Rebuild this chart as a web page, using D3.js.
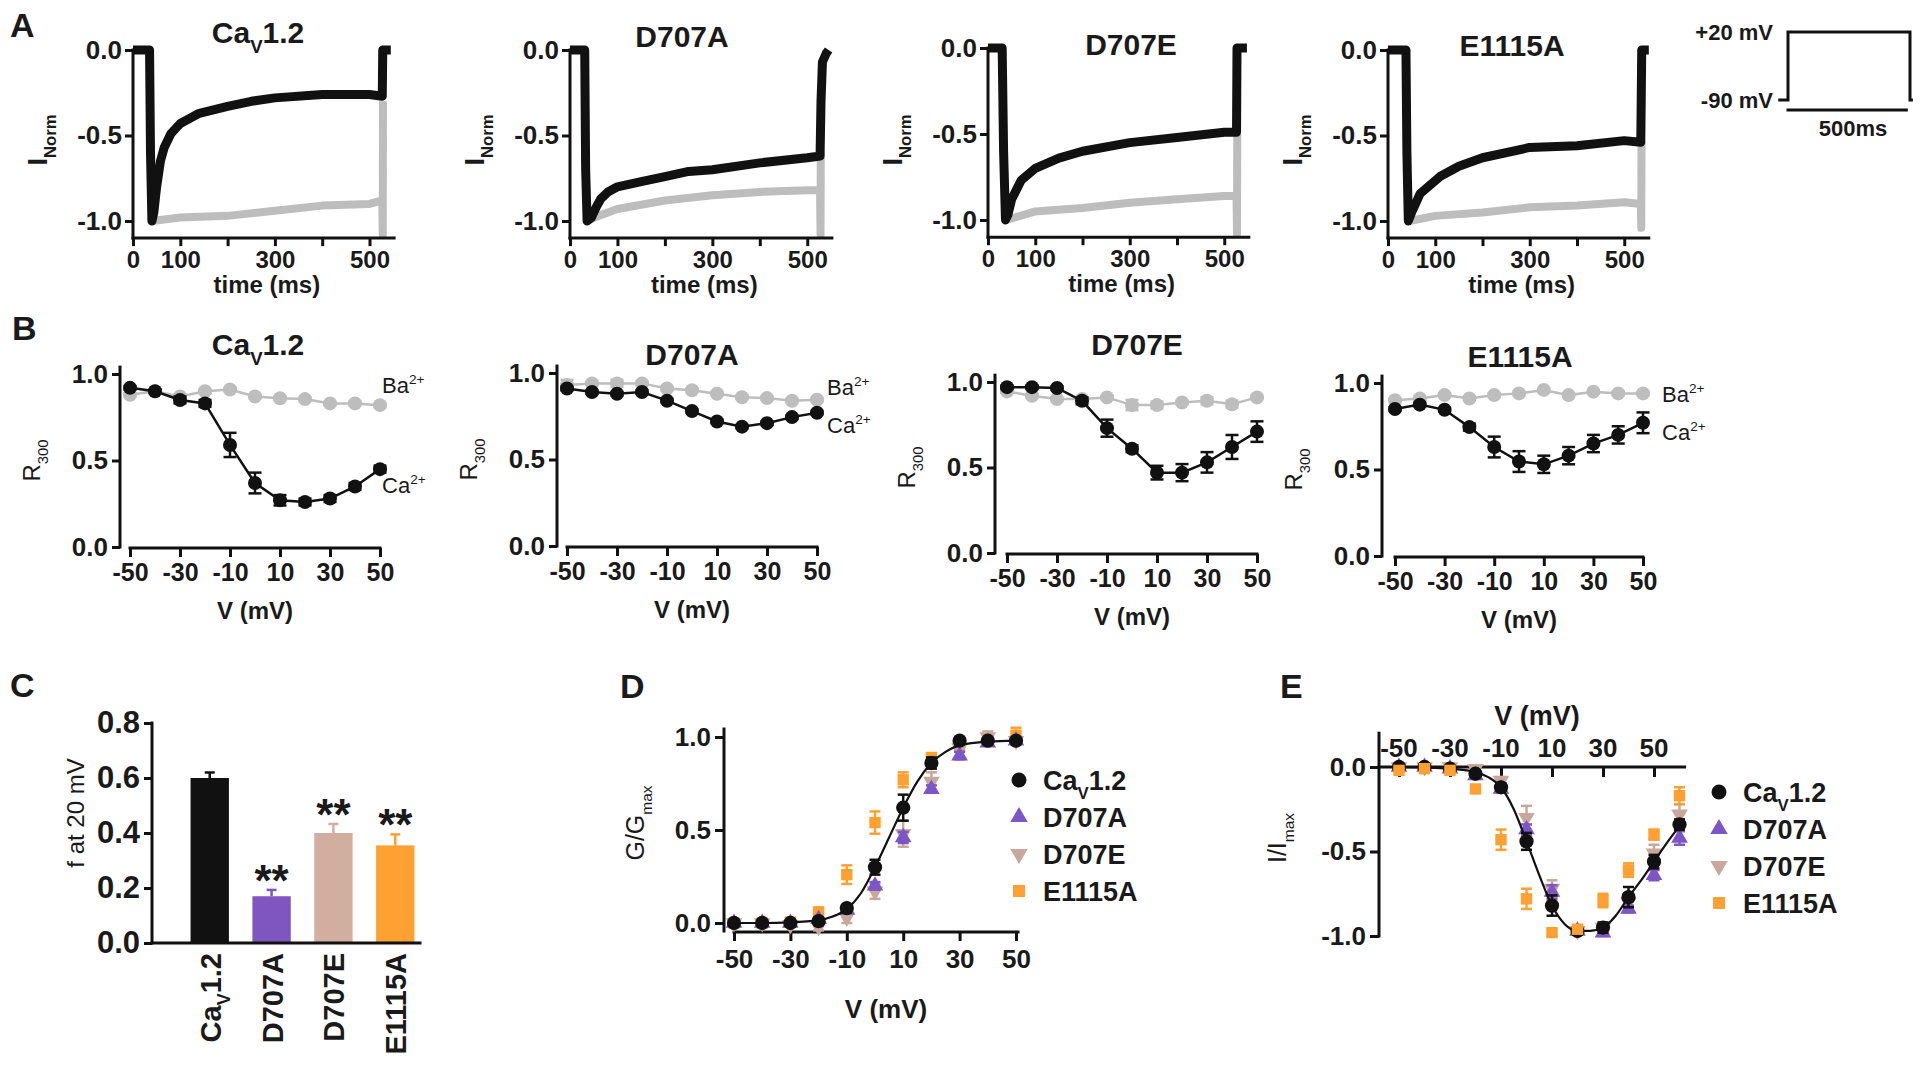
<!DOCTYPE html>
<html>
<head>
<meta charset="utf-8">
<script src="https://cdn.jsdelivr.net/npm/d3@7"></script>
<style>
  body { margin: 0; background: #fff; }
  text { font-family: "Liberation Sans", Arial, sans-serif; fill: #1a1a1a; }
</style>
</head>
<body>
<svg id="fig" width="1920" height="1067"></svg>
<script>
// ---- Panel A: normalised current traces, [time ms, I/Ipeak] (black = Ca2+, grey = Ba2+)
const traceCavCa = [[0,0],[35,0],[37,-0.6],[40,-1.0],[44,-0.95],[50,-0.8],[58,-0.65],[66,-0.57],[80,-0.49],[100,-0.43],[140,-0.37],[200,-0.33],[250,-0.3],[300,-0.28],[400,-0.26],[500,-0.26],[527,-0.27],[528,0],[545,0]];
const traceCavBa = [[40,-1.0],[100,-0.98],[200,-0.97],[300,-0.94],[400,-0.91],[500,-0.9],[527,-0.88],[528,-1.08],[528.5,-0.3]];
const traceD707ACa = [[0,0],[31,0],[33,-0.7],[36,-1.0],[45,-0.98],[55,-0.92],[65,-0.87],[80,-0.83],[100,-0.8],[150,-0.77],[200,-0.74],[250,-0.71],[300,-0.7],[400,-0.66],[500,-0.63],[527,-0.62],[529,-0.3],[532,-0.07],[540,-0.02],[545,0]];
const traceD707ABa = [[36,-1.0],[60,-0.97],[100,-0.93],[200,-0.88],[300,-0.85],[400,-0.83],[500,-0.82],[527,-0.82],[528,-1.08],[528.5,-0.6]];
const traceD707ECa = [[0,0],[30,0],[33,-0.6],[37,-1.0],[42,-0.97],[50,-0.88],[70,-0.77],[100,-0.7],[150,-0.64],[200,-0.6],[300,-0.55],[400,-0.52],[500,-0.49],[526,-0.49],[527,0],[548,0]];
const traceD707EBa = [[38,-1.0],[100,-0.95],[200,-0.93],[300,-0.9],[400,-0.88],[500,-0.86],[526,-0.86],[527,-1.08],[527.5,-0.5]];
const traceE1115ACa = [[0,0],[38,0],[40,-0.6],[43,-1.0],[50,-0.95],[68,-0.84],[110,-0.74],[150,-0.68],[200,-0.63],[300,-0.57],[400,-0.56],[500,-0.53],[535,-0.54],[537,0],[552,0]];
const traceE1115ABa = [[45,-1.0],[100,-0.97],[200,-0.95],[300,-0.92],[400,-0.91],[500,-0.89],[535,-0.9],[536,-1.04],[536.5,-0.54]];
const traceTicks = [0, 100, 200, 300, 400, 500];
const traceTickLabels = [0, 100, 300, 500];

// voltage protocol
const protocolT = [-40, 0, 0, 500, 500, 512];
const protocolV = [-90, -90, 20, 20, -90, -90];

// ---- Panel B: R300 vs voltage
const vSteps = [-50, -40, -30, -20, -10, 0, 10, 20, 30, 40, 50];
const rCavCa = [0.92, 0.9, 0.85, 0.83, 0.59, 0.37, 0.27, 0.26, 0.28, 0.35, 0.45];
const rCavCaErr = [0.01, 0.01, 0.02, 0.02, 0.07, 0.06, 0.03, 0.02, 0.02, 0.02, 0.02];
const rCavBa = [0.88, 0.9, 0.87, 0.9, 0.91, 0.87, 0.86, 0.855, 0.83, 0.83, 0.82];
const rCavBaErr = [0.01, 0.01, 0.01, 0.01, 0.01, 0.01, 0.01, 0.01, 0.01, 0.01, 0.01];
const rD707ACa = [0.91, 0.89, 0.88, 0.89, 0.84, 0.78, 0.72, 0.69, 0.71, 0.745, 0.77];
const rD707ACaErr = [0.01, 0.01, 0.01, 0.01, 0.01, 0.01, 0.01, 0.01, 0.01, 0.01, 0.01];
const rD707ABa = [0.93, 0.94, 0.94, 0.94, 0.91, 0.9, 0.88, 0.86, 0.855, 0.84, 0.845];
const rD707ABaErr = [0.03, 0.01, 0.02, 0.01, 0.01, 0.01, 0.01, 0.01, 0.01, 0.01, 0.01];
const rD707ECa = [0.97, 0.97, 0.965, 0.89, 0.73, 0.61, 0.47, 0.47, 0.53, 0.62, 0.71];
const rD707ECaErr = [0.01, 0.01, 0.01, 0.02, 0.05, 0.02, 0.04, 0.05, 0.06, 0.07, 0.06];
const rD707EBa = [0.945, 0.92, 0.9, 0.9, 0.91, 0.865, 0.865, 0.88, 0.89, 0.87, 0.91];
const rD707EBaErr = [0.01, 0.01, 0.01, 0.01, 0.01, 0.03, 0.02, 0.01, 0.02, 0.02, 0.01];
const rE1115ACa = [0.85, 0.875, 0.845, 0.745, 0.63, 0.546, 0.53, 0.58, 0.65, 0.7, 0.77];
const rE1115ACaErr = [0.01, 0.01, 0.01, 0.02, 0.06, 0.06, 0.05, 0.05, 0.05, 0.05, 0.06];
const rE1115ABa = [0.9, 0.91, 0.93, 0.91, 0.93, 0.94, 0.96, 0.93, 0.95, 0.94, 0.94];
const rE1115ABaErr = [0.01, 0.01, 0.01, 0.01, 0.01, 0.01, 0.01, 0.01, 0.01, 0.01, 0.01];

// ---- Panel C: f at 20 mV
const barNames = ["CaV1.2", "D707A", "D707E", "E1115A"];
const barValues = [0.6, 0.17, 0.4, 0.355];
const barErrors = [0.02, 0.023, 0.033, 0.04];
const barStars = ["", "**", "**", "**"];
const barTicks = [0, 0.2, 0.4, 0.6, 0.8];

// ---- Panel D: G/Gmax
const gCav = [0, 0, 0, 0.01, 0.08, 0.3, 0.62, 0.86, 0.98, 0.98, 0.98];
const gCavErr = [0, 0, 0, 0.005, 0.01, 0.04, 0.07, 0.03, 0.02, 0.01, 0.01];
const gD707A = [0, 0, 0, 0.02, 0.07, 0.2, 0.46, 0.72, 0.9, 0.97, 0.98];
const gD707AErr = [0, 0, 0, 0.01, 0.01, 0.02, 0.03, 0.02, 0.02, 0.01, 0.01];
const gD707E = [0, 0, -0.01, -0.02, 0.03, 0.17, 0.48, 0.76, 0.94, 1.0, 0.98];
const gD707EErr = [0, 0, 0.01, 0.02, 0.03, 0.04, 0.07, 0.05, 0.02, 0.03, 0.02];
const gE1115A = [0, 0, 0.005, 0.06, 0.26, 0.54, 0.77, 0.89, 0.95, 0.99, 1.01];
const gE1115AErr = [0, 0, 0, 0.02, 0.05, 0.06, 0.04, 0.02, 0.02, 0.02, 0.04];
const gFitV = [-50, -40, -30, -20, -15, -10, -5, 0, 5, 10, 15, 20, 25, 30, 40, 50];
const gFit = [0, 0, 0.003, 0.015, 0.035, 0.075, 0.16, 0.3, 0.46, 0.62, 0.76, 0.86, 0.92, 0.955, 0.975, 0.98];

// ---- Panel E: I/Imax
const vStepsE = [-50, -40, -30, -20, -10, 0, 10, 20, 30, 40, 50, 60];
const iCav = [0, 0, -0.01, -0.04, -0.12, -0.44, -0.82, -0.97, -0.95, -0.77, -0.56, -0.34];
const iCavErr = [0.01, 0.01, 0.01, 0.01, 0.02, 0.05, 0.06, 0.02, 0.03, 0.06, 0.04, 0.03];
const iD707A = [0, 0, -0.01, -0.05, -0.13, -0.37, -0.74, -0.97, -0.98, -0.84, -0.64, -0.42];
const iD707AErr = [0.01, 0.01, 0.01, 0.02, 0.02, 0.03, 0.04, 0.02, 0.02, 0.02, 0.03, 0.04];
const iD707E = [0, 0, 0, -0.01, -0.08, -0.3, -0.72, -0.97, -0.95, -0.8, -0.51, -0.28];
const iD707EErr = [0.01, 0.01, 0.02, 0.02, 0.02, 0.07, 0.05, 0.02, 0.03, 0.03, 0.05, 0.06];
const iE1115A = [-0.02, -0.01, -0.02, -0.13, -0.43, -0.78, -0.98, -0.96, -0.79, -0.61, -0.4, -0.17];
const iE1115AErr = [0.01, 0.01, 0.01, 0.02, 0.06, 0.06, 0.02, 0.02, 0.04, 0.04, 0.03, 0.05];
const iFitV = [-50, -30, -20, -15, -10, -5, 0, 5, 10, 15, 20, 25, 30, 35, 40, 45, 50, 55, 60];
const iFit = [0, -0.01, -0.03, -0.06, -0.12, -0.25, -0.44, -0.64, -0.82, -0.93, -0.97, -0.97, -0.95, -0.88, -0.77, -0.67, -0.56, -0.45, -0.35];

const black = "#111";
const grey = "#bdbdbd";
const purple = "#7d55c5";
const tan = "#c8a89b";
const orange = "#ffa033";
const barColors = [black, "#7f56c0", "#d1ae9f", orange];

const svg = d3.select("#fig");
const fmt1 = d => d.toFixed(1);
const fmtInt = d => String(d);   // plain hyphen minus, as in the figure

// text with sub/superscripts. parts: strings or {t, sub} / {t, sup}
function richText(g, x, y, parts, o) {
  const t = g.append("text")
    .attr("transform", `translate(${x},${y})` + (o.rotate ? ` rotate(${o.rotate})` : ""))
    .attr("text-anchor", o.anchor || "start")
    .attr("font-size", o.size)
    .attr("font-weight", o.weight || "bold");
  let shift = 0;
  parts.forEach(p => {
    const s = typeof p === "string" ? {t: p} : p;
    const target = s.sub ? o.size * 0.32 : s.sup ? -o.size * 0.42 : 0;
    t.append("tspan")
      .attr("dy", target - shift)
      .attr("font-size", (s.sub || s.sup) ? o.size * 0.62 : o.size)
      .text(s.t);
    shift = target;
  });
  return t;
}

function styleAxis(sel, size) {
  sel.select(".domain").remove();
  sel.selectAll(".tick line").attr("stroke", black).attr("stroke-width", 3);
  sel.selectAll(".tick text").attr("font-size", size).attr("font-weight", "bold").attr("fill", "#1a1a1a")
    .style("font-family", '"Liberation Sans", Arial, sans-serif');
}

function hline(g, x1, x2, y) {
  g.append("line").attr("x1", x1).attr("x2", x2).attr("y1", y).attr("y2", y)
    .attr("stroke", black).attr("stroke-width", 3).attr("stroke-linecap", "square");
}
function vline(g, x, y1, y2) {
  g.append("line").attr("x1", x).attr("x2", x).attr("y1", y1).attr("y2", y2)
    .attr("stroke", black).attr("stroke-width", 3).attr("stroke-linecap", "square");
}

const cavParts = ["Ca", {t: "V", sub: true}, "1.2"];

// ---------- Panel A ----------
function tracePanel(c) {
  const g = svg.append("g");
  const x = d3.scaleLinear().domain([0, 550]).range([c.ax, c.ax + 550 * c.pxms]);
  const y = d3.scaleLinear().domain([-1, 0]).range([c.y1, c.y0]);
  const axisY = y(-1.1);

  const line = d3.line().x(d => x(d[0])).y(d => y(d[1]));
  g.append("path").datum(c.ba).attr("d", line).attr("fill", "none")
    .attr("stroke", grey).attr("stroke-width", 8).attr("stroke-linejoin", "round");
  g.append("path").datum(c.ca).attr("d", line).attr("fill", "none")
    .attr("stroke", black).attr("stroke-width", 9).attr("stroke-linejoin", "round");

  vline(g, c.ax, axisY, y(0));
  hline(g, c.ax, x(552), axisY);
  g.append("g").attr("transform", `translate(${c.ax},0)`)
    .call(d3.axisLeft(y).tickValues([-1, -0.5, 0]).tickFormat(fmt1).tickSize(8).tickPadding(3))
    .call(s => styleAxis(s, 26));
  g.append("g").attr("transform", `translate(0,${axisY})`)
    .call(d3.axisBottom(x).tickValues(traceTicks)
      .tickFormat(d => traceTickLabels.includes(d) ? d : "").tickSize(8).tickPadding(5))
    .call(s => styleAxis(s, 24));

  g.append("text").attr("x", x(283)).attr("y", axisY + 55).attr("text-anchor", "middle")
    .attr("font-size", 24).attr("font-weight", "bold").text("time (ms)");
  richText(g, c.titleX, c.titleY, c.title, {size: 30, anchor: "middle"});
  richText(g, c.ax - 86, 140, ["I", {t: "Norm", sub: true}], {size: 27, anchor: "middle", rotate: -90});
}

tracePanel({ax: 133, y0: 50, y1: 221, pxms: 0.473, ca: traceCavCa, ba: traceCavBa,
  title: cavParts, titleX: 258, titleY: 43});
tracePanel({ax: 570, y0: 50, y1: 221, pxms: 0.4745, ca: traceD707ACa, ba: traceD707ABa,
  title: ["D707A"], titleX: 682, titleY: 47});
tracePanel({ax: 988, y0: 48, y1: 220, pxms: 0.4725, ca: traceD707ECa, ba: traceD707EBa,
  title: ["D707E"], titleX: 1131, titleY: 55});
tracePanel({ax: 1388, y0: 50, y1: 221, pxms: 0.4725, ca: traceE1115ACa, ba: traceE1115ABa,
  title: ["E1115A"], titleX: 1512, titleY: 56});

// voltage protocol
(function () {
  const g = svg.append("g");
  const x = d3.scaleLinear().domain([0, 500]).range([1788, 1910]);
  const y = d3.scaleLinear().domain([-90, 20]).range([100, 32]);
  const pts = protocolT.map((t, i) => [t, protocolV[i]]);
  g.append("path").datum(pts).attr("d", d3.line().x(d => x(d[0])).y(d => y(d[1])))
    .attr("fill", "none").attr("stroke", black).attr("stroke-width", 3);
  hline(g, x(0), x(485), 110);
  g.append("text").attr("x", 1773).attr("y", y(20) + 8).attr("text-anchor", "end")
    .attr("font-size", 22).attr("font-weight", "bold").text("+20 mV");
  g.append("text").attr("x", 1773).attr("y", y(-90) + 8).attr("text-anchor", "end")
    .attr("font-size", 22).attr("font-weight", "bold").text("-90 mV");
  g.append("text").attr("x", 1853).attr("y", 136).attr("text-anchor", "middle")
    .attr("font-size", 22).attr("font-weight", "bold").text("500ms");
})();

// ---------- Panel B ----------
function errorBars(g, xs, ys, errs, x, y, color, cap) {
  xs.forEach((v, i) => {
    if (!errs[i]) return;
    const cx = x(v), top = y(ys[i] + errs[i]), bot = y(ys[i] - errs[i]);
    g.append("line").attr("x1", cx).attr("x2", cx).attr("y1", top).attr("y2", bot)
      .attr("stroke", color).attr("stroke-width", 2.5);
    [top, bot].forEach(yy => g.append("line").attr("x1", cx - cap / 2).attr("x2", cx + cap / 2)
      .attr("y1", yy).attr("y2", yy).attr("stroke", color).attr("stroke-width", 2.5));
  });
}

function rPanel(c) {
  const g = svg.append("g");
  const x = d3.scaleLinear().domain([-50, 50]).range([c.x0, c.x1]);
  const y = d3.scaleLinear().domain([0, 1]).range([c.yb, c.yt]);
  vline(g, c.ax, y(0), y(1.04));
  hline(g, c.x0, c.x1, y(0) + 1);
  g.append("g").attr("transform", `translate(${c.ax},0)`)
    .call(d3.axisLeft(y).tickValues([0, 0.5, 1]).tickFormat(fmt1).tickSize(8).tickPadding(4))
    .call(s => styleAxis(s, 26));
  g.append("g").attr("transform", `translate(0,${y(0) + 1})`)
    .call(d3.axisBottom(x).tickValues([-50, -30, -10, 10, 30, 50]).tickFormat(fmtInt).tickSize(9).tickPadding(6))
    .call(s => styleAxis(s, 25));

  const line = d3.line().x((d, i) => x(vSteps[i])).y(d => y(d));
  [[c.ba, c.baErr, grey], [c.ca, c.caErr, black]].forEach(([vals, errs, col]) => {
    errorBars(g, vSteps, vals, errs, x, y, col, 13);
    g.append("path").datum(vals).attr("d", line).attr("fill", "none")
      .attr("stroke", col).attr("stroke-width", 2.5);
    g.selectAll(null).data(vals).join("circle")
      .attr("cx", (d, i) => x(vSteps[i])).attr("cy", d => y(d)).attr("r", 7).attr("fill", col);
  });

  richText(g, c.titleX, c.titleY, c.title, {size: 30, anchor: "middle"});
  g.append("text").attr("x", (c.x0 + c.x1) / 2).attr("y", y(0) + 72).attr("text-anchor", "middle")
    .attr("font-size", 24).attr("font-weight", "bold").text("V (mV)");
  richText(g, c.ax - 80, (y(0) + y(1)) / 2, ["R", {t: "300", sub: true}],
    {size: 24, weight: "normal", anchor: "middle", rotate: -90});
  if (c.ionX) {
    richText(g, c.ionX, c.baY, ["Ba", {t: "2+", sup: true}], {size: 22, weight: "normal"});
    richText(g, c.ionX, c.caY, ["Ca", {t: "2+", sup: true}], {size: 22, weight: "normal"});
  }
}

rPanel({ax: 120, x0: 130, x1: 380, yb: 547, yt: 374, ca: rCavCa, caErr: rCavCaErr, ba: rCavBa, baErr: rCavBaErr,
  title: cavParts, titleX: 258, titleY: 355, ionX: 382, baY: 393, caY: 493});
rPanel({ax: 557, x0: 567, x1: 817, yb: 546, yt: 373, ca: rD707ACa, caErr: rD707ACaErr, ba: rD707ABa, baErr: rD707ABaErr,
  title: ["D707A"], titleX: 692, titleY: 365, ionX: 827, baY: 395, caY: 433});
rPanel({ax: 995, x0: 1007, x1: 1257, yb: 553, yt: 382, ca: rD707ECa, caErr: rD707ECaErr, ba: rD707EBa, baErr: rD707EBaErr,
  title: ["D707E"], titleX: 1137, titleY: 355});
rPanel({ax: 1382, x0: 1395, x1: 1643, yb: 556, yt: 383, ca: rE1115ACa, caErr: rE1115ACaErr, ba: rE1115ABa, baErr: rE1115ABaErr,
  title: ["E1115A"], titleX: 1520, titleY: 367, ionX: 1662, baY: 402, caY: 440});

// ---------- Panel C ----------
(function () {
  const g = svg.append("g");
  const ax = 152;
  const x = d3.scaleBand().domain(barNames).range([172, 433]).paddingInner(0.38).paddingOuter(0.3);
  const y = d3.scaleLinear().domain([0, 0.8]).range([943, 723]);
  barNames.forEach((n, i) => {
    const cx = x(n) + x.bandwidth() / 2;
    const top = y(barValues[i] + barErrors[i]);
    g.append("line").attr("x1", cx).attr("x2", cx).attr("y1", y(barValues[i])).attr("y2", top)
      .attr("stroke", barColors[i]).attr("stroke-width", 2.5);
    g.append("line").attr("x1", cx - 5).attr("x2", cx + 5).attr("y1", top).attr("y2", top)
      .attr("stroke", barColors[i]).attr("stroke-width", 2.5);
    if (barStars[i]) {
      g.append("text").attr("x", cx).attr("y", top + 6).attr("text-anchor", "middle")
        .attr("font-size", 44).attr("font-weight", "bold").text(barStars[i]);
    }
  });
  g.selectAll(null).data(barValues).join("rect")
    .attr("x", (d, i) => x(barNames[i])).attr("width", x.bandwidth())
    .attr("y", d => y(d)).attr("height", d => y(0) - y(d))
    .attr("fill", (d, i) => barColors[i]);
  vline(g, ax, y(0), y(0.8));
  hline(g, ax, 420, y(0));
  g.append("g").attr("transform", `translate(${ax},0)`)
    .call(d3.axisLeft(y).tickValues(barTicks).tickFormat(fmt1).tickSize(8).tickPadding(4))
    .call(s => styleAxis(s, 31));
  barNames.forEach(n => {
    const cx = x(n) + x.bandwidth() / 2;
    const parts = n === "CaV1.2" ? cavParts : [n];
    richText(g, cx + 11, 953, parts, {size: 29, anchor: "end", rotate: -90});
  });
  g.append("text").attr("transform", "translate(84,813) rotate(-90)").attr("text-anchor", "middle")
    .attr("font-size", 24).text("f at 20 mV");
})();

// ---------- Panels D and E: shared marker drawing ----------
const series = [
  {name: cavParts, color: black, shape: d3.symbolCircle, size: 160, rot: 0},
  {name: ["D707A"], color: purple, shape: d3.symbolTriangle, size: 120, rot: 0},
  {name: ["D707E"], color: tan, shape: d3.symbolTriangle, size: 120, rot: 180},
  {name: ["E1115A"], color: orange, shape: d3.symbolSquare, size: 130, rot: 0}
];

function markers(g, xs, ys, errs, x, y, s) {
  errorBars(g, xs, ys, errs, x, y, s.color, 11);
  g.selectAll(null).data(ys).join("path")
    .attr("d", d3.symbol().type(s.shape).size(s.size))
    .attr("transform", (d, i) => `translate(${x(xs[i])},${y(d)}) rotate(${s.rot})`)
    .attr("fill", s.color);
}

function legend(g, lx, ly) {
  series.forEach((s, i) => {
    const yy = ly + i * 37;
    g.append("path").attr("d", d3.symbol().type(s.shape).size(s.size * 1.1))
      .attr("transform", `translate(${lx},${yy}) rotate(${s.rot})`).attr("fill", s.color);
    richText(g, lx + 24, yy + 10, s.name, {size: 27});
  });
}

// ---------- Panel D ----------
(function () {
  const g = svg.append("g");
  const ax = 724;
  const x = d3.scaleLinear().domain([-50, 50]).range([734, 1016]);
  const y = d3.scaleLinear().domain([0, 1]).range([923, 737]);
  vline(g, ax, 931, 729);
  hline(g, 734, 1018, 932);
  g.append("g").attr("transform", `translate(${ax},0)`)
    .call(d3.axisLeft(y).tickValues([0, 0.5, 1]).tickFormat(fmt1).tickSize(9).tickPadding(4))
    .call(s => styleAxis(s, 26));
  g.append("g").attr("transform", "translate(0,932)")
    .call(d3.axisBottom(x).tickValues([-50, -30, -10, 10, 30, 50]).tickFormat(fmtInt).tickSize(9).tickPadding(9))
    .call(s => styleAxis(s, 26));

  const data = [[gCav, gCavErr], [gD707A, gD707AErr], [gD707E, gD707EErr], [gE1115A, gE1115AErr]];
  [3, 2, 1].forEach(k => markers(g, vSteps, data[k][0], data[k][1], x, y, series[k]));
  g.append("path").datum(gFit)
    .attr("d", d3.line().curve(d3.curveMonotoneX).x((d, i) => x(gFitV[i])).y(d => y(d)))
    .attr("fill", "none").attr("stroke", black).attr("stroke-width", 2.2);
  markers(g, vSteps, data[0][0], data[0][1], x, y, series[0]);
  legend(g, 1019, 780);

  g.append("text").attr("x", 886).attr("y", 1018).attr("text-anchor", "middle")
    .attr("font-size", 26).attr("font-weight", "bold").text("V (mV)");
  richText(g, 644, 823, ["G/G", {t: "max", sub: true}], {size: 25, weight: "normal", anchor: "middle", rotate: -90});
})();

// ---------- Panel E ----------
(function () {
  const g = svg.append("g");
  const ax = 1379;
  const x = d3.scaleLinear().domain([-50, 50]).range([1399, 1654]);
  const y = d3.scaleLinear().domain([-1, 0]).range([936, 767]);
  vline(g, ax, y(-1), y(0.2));
  hline(g, ax, x(62), y(0));
  g.append("g").attr("transform", `translate(${ax},0)`)
    .call(d3.axisLeft(y).tickValues([-1, -0.5, 0]).tickFormat(fmt1).tickSize(9).tickPadding(4))
    .call(s => styleAxis(s, 26));
  g.append("g").attr("transform", `translate(0,${y(0)})`)
    .call(d3.axisBottom(x).tickValues([-50, -30, -10, 10, 30, 50]).tickFormat(() => "").tickSize(10))
    .call(s => styleAxis(s, 26));
  g.selectAll(null).data([-50, -30, -10, 10, 30, 50]).join("text")
    .attr("x", d => x(d)).attr("y", y(0) - 10).attr("text-anchor", "middle")
    .attr("font-size", 26).attr("font-weight", "bold").text(fmtInt);

  const data = [[iCav, iCavErr], [iD707A, iD707AErr], [iD707E, iD707EErr], [iE1115A, iE1115AErr]];
  [2, 1].forEach(k => markers(g, vStepsE, data[k][0], data[k][1], x, y, series[k]));
  g.append("path").datum(iFit)
    .attr("d", d3.line().curve(d3.curveMonotoneX).x((d, i) => x(iFitV[i])).y(d => y(d)))
    .attr("fill", "none").attr("stroke", black).attr("stroke-width", 2.2);
  markers(g, vStepsE, data[0][0], data[0][1], x, y, series[0]);
  markers(g, vStepsE, data[3][0], data[3][1], x, y, series[3]);
  legend(g, 1719, 792);

  g.append("text").attr("x", 1537).attr("y", 725).attr("text-anchor", "middle")
    .attr("font-size", 27).attr("font-weight", "bold").text("V (mV)");
  richText(g, 1286, 838, ["I/I", {t: "max", sub: true}], {size: 25, weight: "normal", anchor: "middle", rotate: -90});
})();

// panel letters
[["A", 10, 37], ["B", 12, 340], ["C", 10, 697], ["D", 620, 698], ["E", 1280, 698]].forEach(([t, x, y]) =>
  svg.append("text").attr("x", x).attr("y", y).attr("font-size", 34).attr("font-weight", "bold").text(t));
</script>
</body>
</html>
